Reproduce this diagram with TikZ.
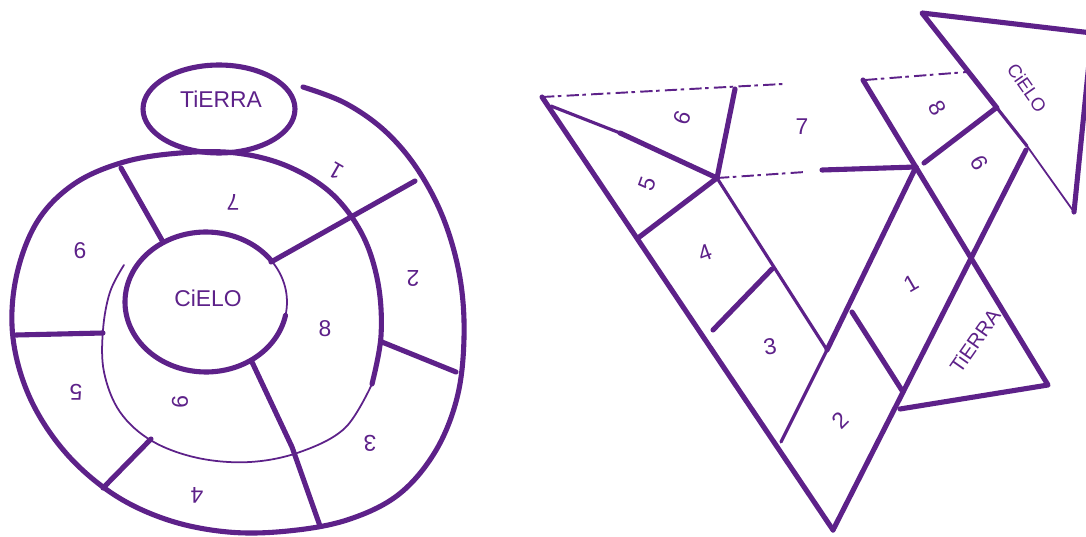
\documentclass[tikz,border=0pt]{standalone}
\usepackage{fontspec}
\setmainfont{Liberation Sans}
\definecolor{pur}{RGB}{93,33,137}
\newcommand{\fsz}[1]{\fontsize{#1}{#1}\selectfont}
\tikzset{
  thk/.style={draw=pur, line width=2.9pt, line cap=round, line join=round},
  med/.style={draw=pur, line width=1.8pt, line cap=round, line join=round},
  thn/.style={draw=pur, line width=1pt, line cap=round, line join=round},
  dsh/.style={draw=pur, line width=1.1pt, dash pattern=on 7pt off 2pt on 2pt off 3pt},
  lbl/.style={text=pur, inner sep=0pt, font=\fsz{13}},
  big/.style={text=pur, inner sep=0pt, font=\fsz{13}}
}
\begin{document}
\begin{tikzpicture}[x=0.02cm,y=-0.02cm]
\useasboundingbox (0,0) rectangle (1086,537);
\clip (0,0) rectangle (1086,537);
\fill[white] (0,0) rectangle (1086,537);

% ================= LEFT: spiral =================
\draw[thk] (219,109) ellipse [x radius=1.52cm, y radius=0.88cm];
\node[big] (tierraL) at (221,99) {TiERRA};

\draw[thk] plot[smooth, tension=0.6] coordinates {
 (303,87) (345,103) (385,131) (418,170) (444,220) (460,278) (464,338)
 (457,398) (435,452) (398,495) (347,520) (288,531) (228,532) (168,520)
 (113,494) (65,452) (30,398) (13,338) (16,278) (37,222) (74,184)
 (124,162) (180,153) (236,153) (287,166) (331,193) (362,234) (378,283)
 (381,336) (372,384)};
\draw[thn] plot[smooth, tension=0.6] coordinates {
 (372,384) (345,428) (300,452) (250,462) (198,458) (152,441) (120,412)
 (104,372) (103,330) (110,292) (124,265)};

% CIELO circle
\coordinate (cc) at (206,302);
\draw[thk] (cc) ++(36:1.62cm and 1.4cm) arc[start angle=36, end angle=349, x radius=1.62cm, y radius=1.4cm];
\draw[thn] (cc) ++(-11:1.62cm and 1.4cm) arc[start angle=-11, end angle=36, x radius=1.62cm, y radius=1.4cm];
\node[big] (cieloL) at (208,298) {CiELO};

% radial dividers
\draw[thk] (415,181) -- (271,262);
\draw[thk] (382,342) -- (456,372);
\draw[thk] (320,526) -- (292,447) -- (252,362);
\draw[thk] (103,488) -- (151,439);
\draw[thk] (16,335) -- (103,333);
\draw[thk] (121,168) -- (163,242);

% digits left
\node[lbl, rotate=150] (l1) at (336,171) {1};
\node[lbl, rotate=180] (l2) at (413,278) {2};
\node[lbl, rotate=180] (l3) at (370,443) {3};
\node[lbl, rotate=180] (l4) at (197,495) {4};
\node[lbl, rotate=180] (l5) at (76,392) {5};
\node[lbl] (l6) at (80,251) {6};
\node[lbl, rotate=180] (l7) at (233,202) {7};
\node[lbl] (l8) at (325,329) {8};
\node[lbl, rotate=-90] (l9) at (180,402) {9};

% ================= RIGHT: triangle =================
\coordinate (A) at (542,97);
\coordinate (B) at (833,530);
\coordinate (J1) at (717,178);
\coordinate (J2) at (916,167);
\coordinate (K) at (827,350);

\draw[dsh] (A) -- (783,84);
\draw[dsh] (865,80) -- (967,72);
\draw[thk] (A) -- (B);
\draw[med] (551,106) -- (620,133);
\draw[thk] (620,133) -- (J1);
\draw[thk] (J1) -- (735,89);
\draw[thk] (J1) -- (638,238);
\draw[med] (J1) -- (K);
\draw[thk] (713,330) -- (772,269);
\draw[dsh] (J1) -- (805,172);
\draw[thk] (822,170) -- (J2);
\draw[thk] (J2) -- (K);
\draw[med] (K) -- (781,442);
\draw[thk] (852,312) -- (903,392);
\draw[thk] (B) -- (1026,150);
\draw[thk] (863,80) -- (1048,385) -- (900,409);
\draw[thk] (924,163) -- (996,108);

% CIELO triangle
\draw[thk] (997,108) -- (922,13) -- (1092,33) -- (1074,212);
\draw[med] (997,108) -- (1027,146);
\draw[thn] (1027,146) -- (1074,212);

% labels right
\node[lbl, rotate=70] (r6) at (682,118) {6};
\node[lbl] (r7) at (802,127) {7};
\node[lbl, rotate=70] (r5) at (647,184) {5};
\node[lbl, rotate=20] (r4) at (705,253) {4};
\node[lbl, rotate=10] (r3) at (770,347) {3};
\node[lbl, rotate=45] (r2) at (840,420) {2};
\node[lbl, rotate=30] (r1) at (911,284) {1};
\node[lbl, rotate=-60] (r8) at (937,108) {8};
\node[lbl, rotate=120] (r9) at (980,163) {9};
\node[text=pur, inner sep=0pt, font=\fsz{10.5}, rotate=-55] (cieloR) at (1027,88) {CiELO};
\node[text=pur, inner sep=0pt, font=\fsz{11.5}, rotate=55] (tierraR) at (975,341) {TiERRA};
\end{tikzpicture}
\end{document}
